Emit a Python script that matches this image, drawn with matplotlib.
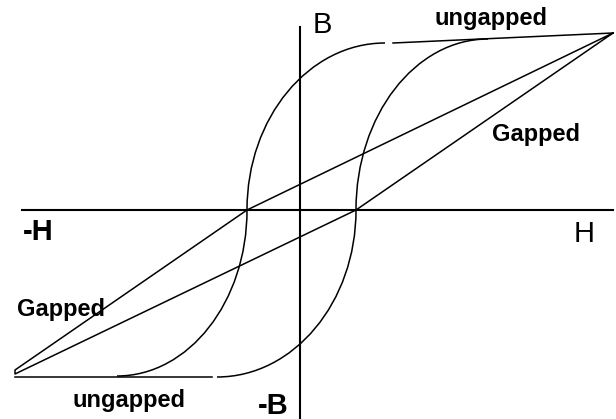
"""B-H hysteresis loops: ungapped vs gapped core."""
import matplotlib
matplotlib.use("Agg")
import matplotlib.pyplot as plt
from matplotlib.path import Path
from matplotlib.patches import PathPatch

plt.rcParams["font.family"] = ["Liberation Sans", "DejaVu Sans"]

# units: 1.0 = 100 px of the original sketch, origin at the axis crossing
H_AXIS = [-2.78, 3.13]
B_AXIS = [1.83, -2.09]

# gapped loop (straight sheared loop)
gapped_h = [3.13, -0.53, -2.85, -2.85, 0.56, 3.13]
gapped_b = [1.77, 0.00, -1.60, -1.64, 0.00, 1.77]

# ungapped loop branches: (start, knee corner, end)
upper_left = [(-0.53, 0.00), (-0.53, 1.67), (0.85, 1.67)]
upper_right = [(0.56, 0.00), (0.56, 1.71), (1.88, 1.71)]
lower_left = [(-0.53, 0.00), (-0.53, -1.66), (-1.83, -1.66)]
lower_right = [(0.56, 0.00), (0.56, -1.67), (-0.83, -1.67)]

# saturated straight parts of the ungapped loop
top_h = [0.93, 3.13]
top_b = [1.67, 1.77]
bottom_h = [-2.85, -0.88]
bottom_b = [-1.67, -1.67]

LW = 1.1
K = 0.5523


def branch(ax, pts):
    (sx, sy), (cx, cy), (ex, ey) = pts
    verts = [(sx, sy),
             (sx + K * (cx - sx), sy + K * (cy - sy)),
             (ex + K * (cx - ex), ey + K * (cy - ey)),
             (ex, ey)]
    codes = [Path.MOVETO, Path.CURVE4, Path.CURVE4, Path.CURVE4]
    ax.add_patch(PathPatch(Path(verts, codes), fill=False, lw=LW, color="black"))


fig = plt.figure(figsize=(6.16, 4.19), dpi=100)
ax = fig.add_axes([0, 0, 1, 1])
ax.set_xlim(-3.00, 3.16)
ax.set_ylim(-2.09, 2.10)
ax.axis("off")

ax.plot(H_AXIS, [0, 0], color="black", lw=1.5)
ax.plot([0, 0], B_AXIS, color="black", lw=1.5)

ax.plot(gapped_h, gapped_b, color="black", lw=LW)
for b in (upper_left, upper_right, lower_left, lower_right):
    branch(ax, b)
ax.plot(top_h, top_b, color="black", lw=LW)
ax.plot(bottom_h, bottom_b, color="black", lw=LW)

lab = dict(fontsize=17, fontweight="bold", ha="left", va="baseline")
ax.text(1.35, 1.85, "ungapped", **lab)
ax.text(1.92, 0.69, "Gapped", **lab)
ax.text(-2.83, -1.06, "Gapped", **lab)
ax.text(-2.27, -1.97, "ungapped", **lab)

axl = dict(fontsize=21, ha="left", va="baseline")
ax.text(0.13, 1.77, "B", **axl)
ax.text(2.74, -0.32, "H", **axl)
ax.text(-2.77, -0.30, "-H", fontweight="bold", **axl)
ax.text(-0.42, -2.04, "-B", fontweight="bold", **axl)

fig.savefig("out.png", dpi=100)
